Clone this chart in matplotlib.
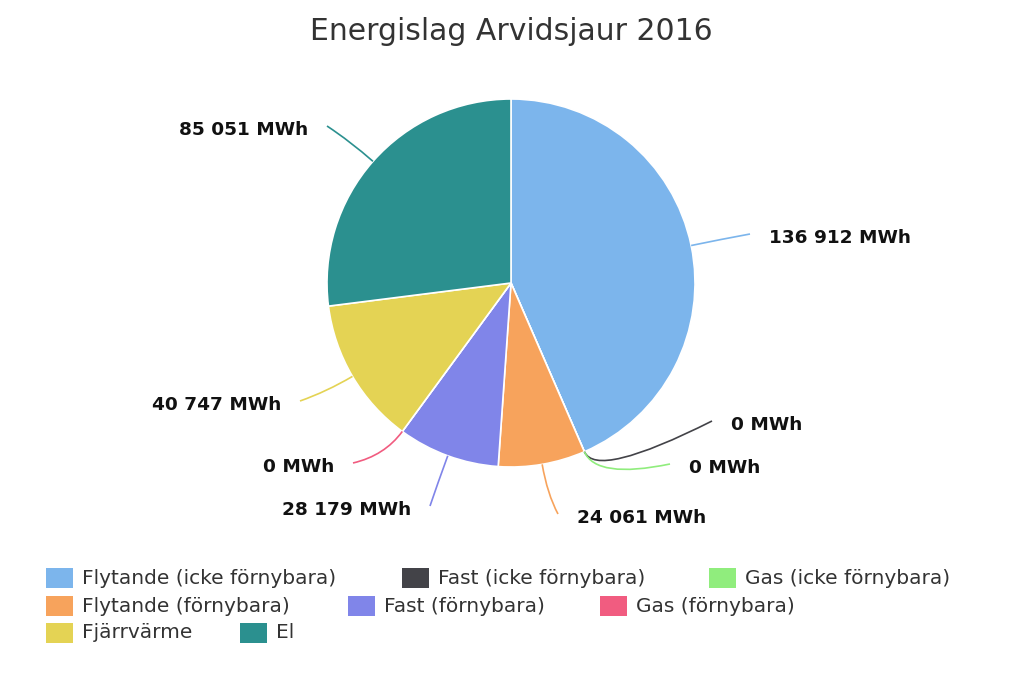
import matplotlib
matplotlib.use("Agg")
import matplotlib.pyplot as plt
from matplotlib.patches import Rectangle, PathPatch
from matplotlib.path import Path
import numpy as np

# data
categories = ["Flytande (icke förnybara)", "Fast (icke förnybara)", "Gas (icke förnybara)",
              "Flytande (förnybara)", "Fast (förnybara)", "Gas (förnybara)",
              "Fjärrvärme", "El"]
values_mwh = [136912, 0, 0, 24061, 28179, 0, 40747, 85051]
colors = ["#7cb5ec", "#434348", "#90ed7d", "#f7a35c", "#8085e9", "#f15c80", "#e4d354", "#2b908f"]
title = "Energislag Arvidsjaur 2016"

W, H = 1023, 682
def Y(py):
    return H - py

# label anchors in pixel coords (end of connector) and text side
label_end = [(750, 234), (712, 421), (670, 464), (558, 514), (430, 506), (353, 463), (300, 401), (327, 126)]
label_side = [1, 1, 1, 1, -1, -1, -1, -1]

# legend layout (square left x, row y)
legend_pos = [(46, 578), (402, 578), (709, 578),
              (46, 606), (348, 606), (600, 606),
              (46, 633), (240, 633)]

def fmt(v):
    return "{:,}".format(v).replace(",", " ") + " MWh"

fig = plt.figure(figsize=(W / 100, H / 100), dpi=100)
ax = fig.add_axes([0, 0, 1, 1])

cx, cy, r = 511, Y(283), 184
wedges, _ = ax.pie(values_mwh, colors=colors, startangle=90, counterclock=False,
                   center=(cx, cy), radius=r,
                   wedgeprops=dict(edgecolor="white", linewidth=1.2))

for w, (ex, ey), side, v, c in zip(wedges, label_end, label_side, values_mwh, colors):
    mid = np.deg2rad((w.theta1 + w.theta2) / 2)
    ux, uy = np.cos(mid), np.sin(mid)
    p0 = (cx + r * ux, cy + r * uy)
    p1 = (cx + (r + 30) * ux, cy + (r + 30) * uy)
    p2 = (ex, Y(ey))
    path = Path([p0, p1, p2], [Path.MOVETO, Path.CURVE3, Path.CURVE3])
    ax.add_patch(PathPatch(path, fill=False, edgecolor=c, linewidth=1.2))
    tx = ex + 19 * side
    ax.text(tx, Y(ey + 4), fmt(v), ha="left" if side > 0 else "right", va="center",
            fontsize=13.3, fontweight="bold", color="#111111")

ax.text(W / 2, Y(31), title, ha="center", va="center", fontsize=21.5, color="#333333")

for (lx, ly), name, c in zip(legend_pos, categories, colors):
    ax.add_patch(Rectangle((lx, Y(ly + 10)), 27, 20, facecolor=c, edgecolor="none"))
    ax.text(lx + 36, Y(ly), name, ha="left", va="center", fontsize=14.5, color="#333333")

ax.set_xlim(0, W)
ax.set_ylim(0, H)
ax.set_aspect("auto")
ax.axis("off")

fig.savefig("out.png", dpi=100)
